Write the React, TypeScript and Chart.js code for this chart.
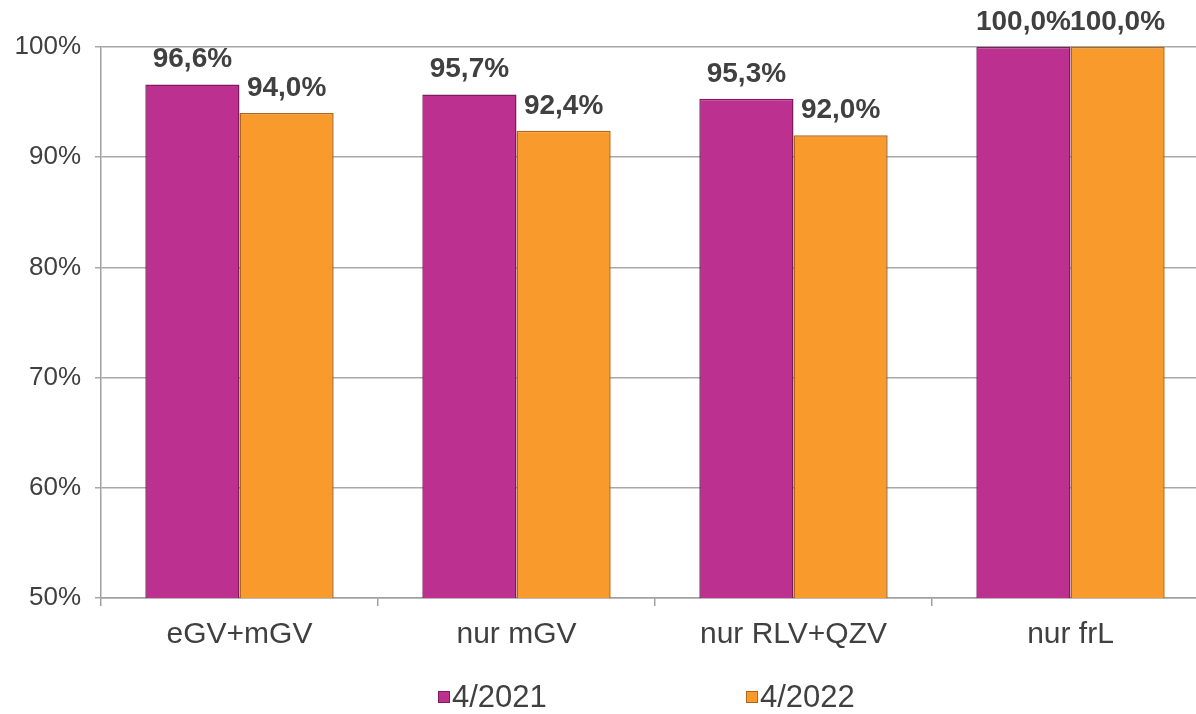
import React, { useEffect, useRef } from "react";
import { Chart, registerables } from "chart.js";

Chart.register(...registerables);

const categories: string[] = ["eGV+mGV", "nur mGV", "nur RLV+QZV", "nur frL"];
const seriesNames: string[] = ["4/2021", "4/2022"];
const values2021: number[] = [96.6, 95.7, 95.3, 100.0];
const values2022: number[] = [94.0, 92.4, 92.0, 100.0];
const yTicks: number[] = [50, 60, 70, 80, 90, 100];

const FONT = "'Liberation Sans', Arial, sans-serif";
const TEXT = "#404040";
const PURPLE = "#BC3090";
const PURPLE_EDGE = "#7E1A5E";
const ORANGE = "#F99B2C";
const ORANGE_EDGE = "#B0661A";

const fmt = (v: number) => v.toFixed(1).replace(".", ",") + "%";

const dataLabelPlugin = {
  id: "dataLabels",
  afterDatasetsDraw(chart: any) {
    const ctx = chart.ctx;
    ctx.save();
    ctx.font = `bold 28px ${FONT}`;
    ctx.fillStyle = TEXT;
    ctx.textAlign = "center";
    ctx.textBaseline = "alphabetic";
    chart.data.datasets.forEach((ds: any, di: number) => {
      const meta = chart.getDatasetMeta(di);
      meta.data.forEach((bar: any, i: number) => {
        ctx.fillText(fmt(ds.data[i]), bar.x, bar.y - 17);
      });
    });
    ctx.restore();
  },
};

const legendPlugin = {
  id: "customLegend",
  afterDraw(chart: any) {
    const ctx = chart.ctx;
    const starts = [438, 746];
    const y = 697;
    ctx.save();
    ctx.font = `31px ${FONT}`;
    ctx.textBaseline = "middle";
    ctx.textAlign = "left";
    chart.data.datasets.forEach((ds: any, di: number) => {
      const x = starts[di];
      ctx.fillStyle = ds.backgroundColor;
      ctx.fillRect(x, y - 6, 12, 12);
      ctx.strokeStyle = ds.borderColor;
      ctx.lineWidth = 1;
      ctx.strokeRect(x + 0.5, y - 5.5, 11, 11);
      ctx.fillStyle = TEXT;
      ctx.fillText(ds.label, x + 14, y + 1);
    });
    ctx.restore();
  },
};

export default function App() {
  const ref = useRef<HTMLCanvasElement | null>(null);
  useEffect(() => {
    if (!ref.current) return;
    const chart = new Chart(ref.current, {
      type: "bar",
      data: {
        labels: categories,
        datasets: [
          {
            label: seriesNames[0],
            data: values2021,
            backgroundColor: PURPLE,
            borderColor: PURPLE_EDGE,
            borderWidth: 1.5,
            categoryPercentage: 0.68,
            barPercentage: 1.0,
          },
          {
            label: seriesNames[1],
            data: values2022,
            backgroundColor: ORANGE,
            borderColor: ORANGE_EDGE,
            borderWidth: 1.5,
            categoryPercentage: 0.68,
            barPercentage: 1.0,
          },
        ],
      },
      options: {
        animation: false,
        responsive: true,
        maintainAspectRatio: false,
        layout: { padding: { top: 47, bottom: 56, left: 0, right: 0 } },
        plugins: {
          legend: { display: false },
          tooltip: { enabled: false },
        },
        scales: {
          x: {
            grid: {
              display: true,
              drawOnChartArea: false,
              drawTicks: true,
              tickLength: 8,
              color: "#a0a0a0",
              lineWidth: 1.5,
            },
            border: { display: true, color: "#a0a0a0", width: 1.5 },
            ticks: {
              color: TEXT,
              font: { family: FONT, size: 30 },
              padding: 11,
            },
            afterFit(scale: any) {
              scale.height = 60;
            },
          },
          y: {
            min: 50,
            max: 100,
            afterBuildTicks(scale: any) {
              scale.ticks = yTicks.map((v) => ({ value: v }));
            },
            grid: {
              color: "#a8a8a8",
              lineWidth: 1.5,
              tickLength: 6,
              drawTicks: true,
            },
            border: { display: true, color: "#a0a0a0", width: 1.5 },
            ticks: {
              color: TEXT,
              font: { family: FONT, size: 26 },
              padding: 14,
              callback: (v: any) => `${v}%`,
            },
            afterFit(scale: any) {
              scale.width = 101;
            },
          },
        },
      },
      plugins: [dataLabelPlugin, legendPlugin],
    });
    return () => chart.destroy();
  }, []);
  return (
    <div
      style={{
        position: "fixed",
        left: 0,
        top: 0,
        width: 1209,
        height: 714,
        background: "#ffffff",
      }}
    >
      <canvas ref={ref} />
    </div>
  );
}
